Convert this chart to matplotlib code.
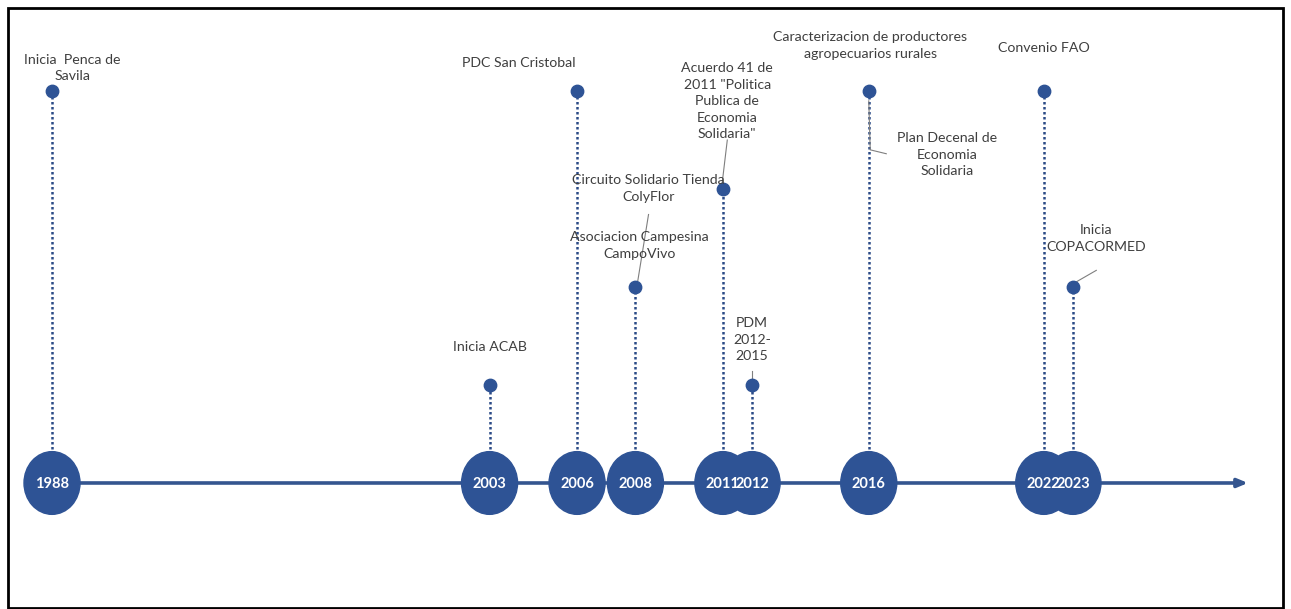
import matplotlib.pyplot as plt
from matplotlib.patches import Ellipse, Rectangle

# Timeline data
years = [1988, 2003, 2006, 2008, 2011, 2012, 2016, 2022, 2023]
levels = [4, 1, 4, 2, 3, 1, 4, 4, 2]

# Event labels and the year each is attached to
label_texts = [
    "Inicia  Penca de\nSavila",
    "Inicia ACAB",
    "PDC San Cristobal",
    "Circuito Solidario Tienda\nColyFlor",
    "Asociacion Campesina\nCampoVivo",
    "Acuerdo 41 de\n2011 \"Politica\nPublica de\nEconomia\nSolidaria\"",
    "PDM\n2012-\n2015",
    "Caracterizacion de productores\nagropecuarios rurales",
    "Plan Decenal de\nEconomia\nSolidaria",
    "Convenio FAO",
    "Inicia\nCOPACORMED",
]
label_years = [1988, 2003, 2006, 2008, 2008, 2011, 2012, 2016, 2016, 2022, 2023]

# label offsets (years, levels) from each event point
label_dx = [0.7, 0.0, -2.0, 0.45, 0.15, 0.15, 0.0, 0.05, 2.7, 0.0, 0.8]
label_dy = [0.09, 0.33, 0.22, 0.86, 0.28, 0.50, 0.23, 0.32, -0.88, 0.38, 0.35]

blue = "#2E5395"
text_col = "#3F3F3F"

fig = plt.figure(figsize=(12.91, 6.09), dpi=100)
ax = fig.add_axes([0, 0, 1, 1])
ax.set_xlim(1986.217, 2030.475)
ax.set_ylim(-1.286, 4.929)
ax.axis("off")

# main axis line with arrow
ax.annotate("", xy=(2029.0, 0), xytext=(1988, 0),
            arrowprops=dict(arrowstyle="-|>,head_length=0.6,head_width=0.25",
                            color="#34558F", lw=2.6, shrinkA=0, shrinkB=0),
            zorder=1)

# dotted stems and head dots
for yr, lv in zip(years, levels):
    ax.plot([yr, yr], [0.3, lv], color="#2B4A86", lw=1.8,
            linestyle=(0, (1, 1)), zorder=2)
ax.scatter(years, levels, s=80, color=blue, zorder=3)

# year circles
for yr in years:
    ax.add_patch(Ellipse((yr, 0), 1.92, 0.64, color=blue, zorder=4))
    ax.text(yr, -0.01, str(yr), color="white", fontsize=10.5,
            fontweight="bold", ha="center", va="center", zorder=5,
            family="Lato")

# event labels
for txt, yr, dx, dy in zip(label_texts, label_years, label_dx, label_dy):
    lv = levels[years.index(yr)]
    ax.text(yr + dx, lv + dy, txt, color=text_col, fontsize=10.2, ha="center",
            va="bottom", linespacing=1.45, family="Lato", zorder=6)

# connector lines
c = "#7F7F7F"
ax.plot([2011.15, 2010.97], [3.5, 3.05], color=c, lw=0.8, zorder=2)
ax.plot([2008.45, 2008.08], [2.74, 2.06], color=c, lw=0.8, zorder=2)
ax.plot([2012, 2012], [1.14, 1.03], color=c, lw=0.8, zorder=2)
ax.plot([2016, 2016.05, 2016.6], [3.9, 3.4, 3.36], color=c, lw=0.8, zorder=2)
ax.plot([2023.1, 2023.8], [2.05, 2.17], color=c, lw=0.8, zorder=2)

# outer frame
fig.patches.append(Rectangle((8 / 1291, 1 / 609), 1275 / 1291, 600 / 609,
                             transform=fig.transFigure, fill=False,
                             edgecolor="black", lw=2))

fig.savefig("out.png", dpi=100)
